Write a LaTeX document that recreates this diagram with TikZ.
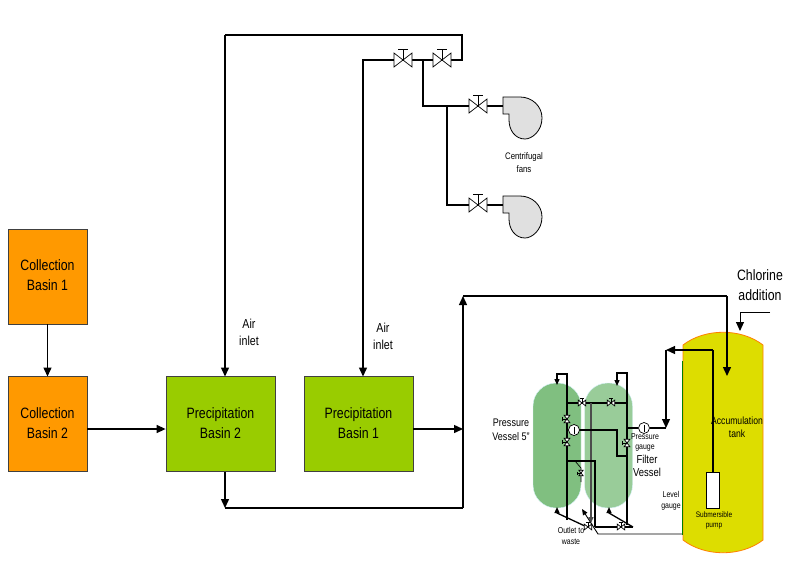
\documentclass[tikz,border=0pt]{standalone}
\usepackage{fontspec}
\setmainfont[FakeStretch=0.82]{Liberation Sans}
\usetikzlibrary{arrows.meta}

\definecolor{basinorange}{HTML}{FF9900}
\definecolor{basingreen}{HTML}{99CC00}
\definecolor{tankyellow}{HTML}{DDDD00}
\definecolor{vesselone}{HTML}{80BF80}
\definecolor{vesseltwo}{HTML}{99CC99}

\tikzset{
  basin/.style={draw=black!75,line width=0.8pt,minimum width=#1,minimum height=95pt,inner sep=0pt,align=center,text depth=2pt,font=\fontsize{15}{20}\selectfont},
  pipe/.style={line width=1.4pt,line join=miter},
  thinpipe/.style={line width=1.3pt},
  flow/.style={pipe,-{Triangle[length=9pt,width=8pt]}},
  smallflow/.style={line width=1.3pt,-{Triangle[length=6pt,width=5pt]}},
  vessel/.style={draw=cyan!15,minimum width=48pt,minimum height=125pt,rounded corners=23pt,inner sep=0pt},
  lbl/.style={align=center,inner sep=0pt},
  hvalve/.pic={
    \draw[line width=0.7pt,fill=white] (-9,-7) -- (9,7) -- (9,-7) -- (-9,7) -- cycle;
    \draw[line width=0.7pt] (0,0) -- (0,-11);
    \draw[line width=0.9pt] (-5,-11) -- (5,-11);
  },
  vvalve/.pic={
    \draw[line width=0.7pt,fill=white] (-7,-9) -- (7,9) -- (-7,9) -- (7,-9) -- cycle;
    \draw[line width=0.7pt] (0,0) -- (-11,0);
    \draw[line width=0.9pt] (-11,-5) -- (-11,5);
  },
  gauge/.style={circle,draw,fill=white,line width=0.7pt,minimum size=11pt,inner sep=0pt},
}

\begin{document}
\begin{tikzpicture}[x=1pt,y=-1pt]
\useasboundingbox (0,0) rectangle (797,571);

% basins
\node[basin=79pt,fill=basinorange] (cb1) at (47.5,276.5) {Collection\\Basin 1};
\node[basin=79pt,fill=basinorange] (cb2) at (47.5,424) {Collection\\Basin 2};
\node[basin=109pt,fill=basingreen] (pb2) at (220.5,424) {Precipitation\\Basin 2};
\node[basin=109pt,fill=basingreen] (pb1) at (358.5,424) {Precipitation\\Basin 1};

% accumulation tank
\draw[draw=orange,line width=0.8pt,fill=tankyellow] (683,345) .. controls (705,328) and (741,328) .. (763,345)
  -- (763,540) .. controls (741,557) and (705,557) .. (683,540) -- cycle;

% filter vessels
\node[vessel,fill=vesselone] (pv) at (557,445.5) {};
\node[vessel,fill=vesseltwo] (fv) at (608.5,445.5) {};

% junctions
\coordinate (airtopl) at (225,35);
\coordinate (airtopr) at (462,35);
\coordinate (airinr) at (462,60);
\coordinate (airinl) at (363,60);
\coordinate (va) at (403,60);
\coordinate (vb) at (442,60);
\coordinate (tee) at (423,60);
\coordinate (teed) at (423,106);
\coordinate (fana) at (503,106);
\coordinate (teeb) at (447,106);
\coordinate (teec) at (447,205);
\coordinate (fanb) at (503,205);
\coordinate (vc) at (478,106);
\coordinate (vd) at (478,205);
\coordinate (cbout) at (47.5,324);
\coordinate (cbin) at (47.5,376.5);
\coordinate (pb2top) at (225,376.5);
\coordinate (pb1top) at (363,376.5);
\coordinate (pb2bot) at (225,471.5);
\coordinate (pb2dn) at (225,508);
\coordinate (mainb) at (463,508);
\coordinate (maint) at (463,296);
\coordinate (mainr) at (727,296);
\coordinate (tankin) at (727,376);
\coordinate (mainin) at (463,429);
\coordinate (clr) at (770,312);
\coordinate (clc) at (740,312);
\coordinate (cld) at (740,331);
\coordinate (pumpup) at (713,350);
\coordinate (pumpl) at (666,350);
\coordinate (pumpd) at (666,428);
\coordinate (gaugel) at (627,428);

% piping to basins and fans
\draw[flow] (cbout) -- (cbin);
\draw[flow] (cb2.east |- 0,429) -- (pb2.west |- 0,429);
\draw[flow] (airtopl) -- (pb2top);
\draw[pipe] (airtopl) -- (airtopr) -- (airinr) -- (vb);
\draw[pipe] (vb) -- (va);
\draw[flow] (va) -- (airinl) -- (pb1top);
\draw[pipe] (tee) -- (teed) -- (vc) -- (fana);
\draw[pipe] (teeb) -- (teec) -- (vd) -- (fanb);
\draw[flow] (pb2bot) -- (pb2dn);
\draw[pipe] (pb2dn) -- (mainb);
\draw[flow] (mainb) -- (maint);
\draw[pipe] (maint) -- (mainr);
\draw[flow] (mainr) -- (tankin);
\draw[flow] (pb1.east |- mainin) -- (mainin);
\draw[flow,line width=1pt] (clr) -- (clc) -- (cld);

\pic at (va) {hvalve};
\pic at (vb) {hvalve};
\pic at (vc) {hvalve};
\pic at (vd) {hvalve};

% centrifugal fans
\foreach \fy/\fname in {0/fanone,99/fantwo}{
  \begin{scope}[yshift=-\fy pt]
  \draw[line width=0.8pt,fill=black!12] (503,97) -- (520,97) .. controls (532,97) and (542,106) .. (542,118)
    .. controls (542,131) and (532,139) .. (525,139) .. controls (515,139) and (509,130) .. (509,120)
    -- (509,114) -- (503,114) -- cycle;
  \end{scope}
}

% vessel piping
\coordinate (pvl) at (567,374);
\coordinate (pvm) at (557,374);
\coordinate (pvd) at (557,385);
\coordinate (pvb) at (567,520);
\coordinate (fvl) at (627,373);
\coordinate (fvm) at (617,373);
\coordinate (fvd) at (617,386);
\coordinate (fvb) at (627,525);
\coordinate (hl) at (567,403);
\coordinate (hr) at (627,403);
\coordinate (hm) at (591,403);
\coordinate (hmd) at (591,523);
\coordinate (vla) at (582,403);
\coordinate (vlb) at (611,403);
\coordinate (vlc) at (567,419);
\coordinate (vld) at (567,442);
\coordinate (vle) at (627,443);
\coordinate (vlf) at (581,473);
\coordinate (vlg) at (588,527);
\coordinate (vlh) at (621,527);
\coordinate (gga) at (574,430);
\coordinate (ggb) at (644,428);
\coordinate (gjoga) at (617,430);
\coordinate (gjogb) at (617,456);
\coordinate (gjogc) at (627,456);
\coordinate (ml) at (567,461);
\coordinate (mr) at (595,461);
\coordinate (mb) at (595,527);
\coordinate (br) at (633,527);
\coordinate (brancha) at (575,461);
\coordinate (branchb) at (581,468);
\coordinate (branchc) at (581,482);
\coordinate (outa) at (587,527);
\coordinate (outb) at (557,513);
\coordinate (outc) at (557,507);
\coordinate (outd) at (633,527);
\coordinate (oute) at (609,513);
\coordinate (outf) at (609,507);
\coordinate (levela) at (682,361);
\coordinate (levelb) at (682,534);
\coordinate (levelc) at (598,534);
\coordinate (leveld) at (582,509);

\draw[smallflow] (pvb) -- (pvl) -- (pvm) -- (pvd);
\draw[smallflow] (fvb) -- (fvl) -- (fvm) -- (fvd);
\draw[thinpipe] (hl) -- (hr);
\draw[smallflow,black!70] (hm) -- (hmd);
\draw[thinpipe] (gga) -- (gjoga) -- (gjogb) -- (gjogc);
\draw[thinpipe] (ml) -- (mr) -- (mb);
\draw[thinpipe] (mb) -- (br);
\draw[line width=0.7pt] (brancha) -- (branchb) -- (branchc);
\draw[smallflow] (outa) -- (outb) -- (outc);
\draw[smallflow] (outd) -- (oute) -- (outf);
\draw[smallflow,line width=0.9pt] (levelb) -- (levelc) -- (leveld);
\draw[draw=black!50!green,line width=0.8pt] (683,361) -- (levela) -- (levelb) -- (683,534);

\pic[scale=0.42] at (vla) {hvalve};
\pic[scale=0.42] at (vlb) {hvalve};
\pic[scale=0.42] at (vlc) {vvalve};
\pic[scale=0.42] at (vld) {vvalve};
\pic[scale=0.42] at (vle) {vvalve};
\pic[scale=0.3] at (vlf) {vvalve};
\pic[scale=0.42] at (vlg) {hvalve};
\pic[scale=0.42] at (vlh) {hvalve};

\node[gauge] (gaugea) at (gga) {\rule[-3pt]{0.6pt}{7pt}};
\node[gauge] (gaugeb) at (ggb) {\rule[-3pt]{0.6pt}{7pt}};

% pump and its line
\node[draw,fill=white,line width=0.7pt,minimum width=13pt,minimum height=36pt,inner sep=0pt] (pump) at (713,490) {};
\draw[pipe,line width=1.2pt] (pump.north) -- (pumpup);
\draw[flow,line width=1.2pt] (pumpup) -- (pumpl);
\draw[flow,line width=1.2pt] (pumpl) -- (pumpd);
\draw[pipe,line width=1.2pt] (pumpd) -- (gaugeb.east);
\draw[pipe,line width=1.2pt] (gaugeb.west) -- (gaugel);

% labels
\node[lbl,font=\fontsize{15}{20}\selectfont] (chlorine) at (760,285) {Chlorine\\addition};
\node[lbl,font=\fontsize{13}{17}\selectfont] (aira) at (249,332) {Air\\inlet};
\node[lbl,font=\fontsize{13}{17}\selectfont] (airb) at (383,336) {Air\\inlet};
\node[lbl,font=\fontsize{9.5}{13}\selectfont] (fans) at (524,163) {Centrifugal\\fans};
\node[lbl,font=\fontsize{11}{14}\selectfont] (pvlbl) at (511,430) {Pressure\\Vessel 5"};
\node[lbl,font=\fontsize{11.5}{13.5}\selectfont] (fvlbl) at (647,466) {Filter\\Vessel};
\node[lbl,font=\fontsize{8.5}{10}\selectfont] (gglbl) at (645,442) {Pressure\\gauge};
\node[lbl,font=\fontsize{8.5}{10.5}\selectfont] (lglbl) at (671,501) {Level\\gauge};
\node[lbl,font=\fontsize{8.5}{10.5}\selectfont] (outlbl) at (571,536) {Outlet to\\waste};
\node[lbl,font=\fontsize{10.5}{13.5}\selectfont] (tanklbl) at (737,427) {Accumulation\\tank};
\node[lbl,font=\fontsize{8}{10}\selectfont] (pumplbl) at (714,520) {Submersible\\pump};

\end{tikzpicture}
\end{document}
